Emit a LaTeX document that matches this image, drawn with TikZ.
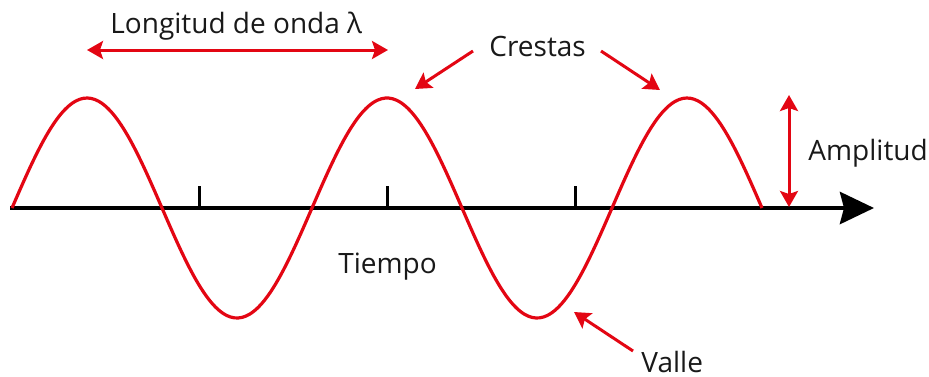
\documentclass[tikz,border=0pt]{standalone}
\usepackage{fontspec}
\setmainfont{Open Sans}
\usetikzlibrary{arrows.meta}
\definecolor{wavered}{RGB}{227,6,19}
\definecolor{labelgray}{RGB}{25,25,25}

\begin{document}
\begin{tikzpicture}[x=0.5pt,y=-0.5pt,
    lbl/.style={font=\fontsize{14}{17}\selectfont,text=labelgray,inner sep=0pt,anchor=base west},
    redarrow/.style={wavered,line width=1.5pt,-{Stealth[length=8pt,width=9pt,inset=1.5pt]}},
    twoway/.style={wavered,line width=1.5pt,{Stealth[length=8pt,width=9pt,inset=1.5pt]}-{Stealth[length=8pt,width=9pt,inset=1.5pt]}}]
  \useasboundingbox (0,0) rectangle (929,376);
  % time axis
  \coordinate (t0) at (10,208);
  \coordinate (t1) at (874,208);
  \draw[line width=2.3pt,-{Stealth[length=17pt,width=16pt,inset=2pt]}] (t0) -- (t1);
  \foreach \x in {199,387,575}{
    \draw[line width=1.5pt] (\x,186) -- (\x,208);
  }
  % the wave (period 300)
  \draw[wavered,line width=1.6pt,domain=12:762,samples=200,smooth]
    plot(\x,{208-110*sin(1.2*(\x-12))});
  % labels
  \node[lbl] (wavelength) at (110,33) {Longitud de onda λ};
  \node[lbl] (crests) at (489,56) {Crestas};
  \node[lbl] (amplitude) at (808,160) {Amplitud};
  \node[lbl] (time) at (338,273) {Tiempo};
  \node[lbl] (trough) at (641,372) {Valle};
  % arrow ends
  \coordinate (wl-a) at (87,50);
  \coordinate (wl-b) at (388,50);
  \coordinate (cr-a) at (473,51);
  \coordinate (cr-b) at (415,89);
  \coordinate (cr-c) at (601,51);
  \coordinate (cr-d) at (660,90);
  \coordinate (am-a) at (789,95);
  \coordinate (am-b) at (789,207);
  \coordinate (va-a) at (633,351);
  \coordinate (va-b) at (574,312);
  % arrows
  \draw[twoway] (wl-a) -- (wl-b);
  \draw[redarrow] (cr-a) -- (cr-b);
  \draw[redarrow] (cr-c) -- (cr-d);
  \draw[twoway] (am-a) -- (am-b);
  \draw[redarrow] (va-a) -- (va-b);
\end{tikzpicture}
\end{document}
